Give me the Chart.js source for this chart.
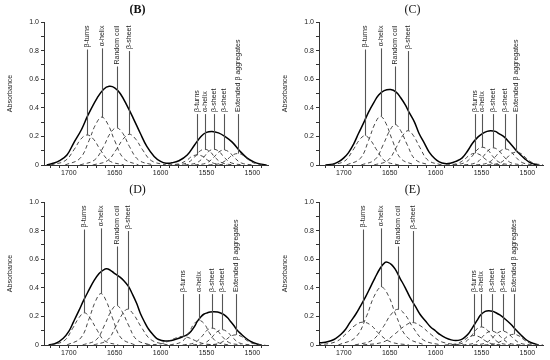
<!DOCTYPE html>
<html>
<head>
<meta charset="utf-8">
<script src="https://cdn.jsdelivr.net/npm/chart.js@4.4.0/dist/chart.umd.min.js"></script>
<style>
  html, body { margin: 0; padding: 0; background: #fff; }
  #wrap { position: relative; width: 550px; height: 360px; }
  .panel { position: absolute; width: 275px; height: 180px; }
</style>
</head>
<body>
<div id="wrap">
  <div class="panel" style="left:0;top:0"><canvas id="chartB" width="275" height="180"></canvas></div>
  <div class="panel" style="left:275px;top:0"><canvas id="chartC" width="275" height="180"></canvas></div>
  <div class="panel" style="left:0;top:180px"><canvas id="chartD" width="275" height="180"></canvas></div>
  <div class="panel" style="left:275px;top:180px"><canvas id="chartE" width="275" height="180"></canvas></div>
</div>
<script>
// axis ranges and ticks (wavenumber, cm-1, reversed axis)
const xMin = 1483;
const xMax = 1727;
const xTickValues = [1490, 1500, 1510, 1520, 1530, 1540, 1550, 1560, 1570, 1580, 1590, 1600,
                     1610, 1620, 1630, 1640, 1650, 1660, 1670, 1680, 1690, 1700, 1710, 1720];
const yTickValues = [0, 0.1, 0.2, 0.3, 0.4, 0.5, 0.6, 0.7, 0.8, 0.9, 1.0];
const yTickLabels = ['0', '', '0.2', '', '0.4', '', '0.6', '', '0.8', '', '1.0'];

const bandNames = ['β-turns', 'α-helix', 'Random coil', 'β-sheet',
                   'β-turns', 'α-helix', 'β-sheet', 'β-sheet', 'Extended β aggregates'];

// ---- panel B : fitted bands [wavenumber, absorbance]
const B_turns  = [[1720,0],[1704,0.03],[1694,0.11],[1687,0.18],[1680,0.21],[1673,0.18],[1666,0.11],[1656,0.03],[1640,0]];
const B_helix  = [[1704,0],[1688,0.045],[1678,0.17],[1671,0.28],[1664,0.335],[1657,0.28],[1650,0.17],[1640,0.045],[1624,0]];
const B_coil   = [[1688,0],[1672,0.035],[1662,0.13],[1655,0.22],[1648,0.26],[1641,0.22],[1634,0.13],[1624,0.035],[1608,0]];
const B_sheet  = [[1674,0],[1658,0.03],[1648,0.11],[1641,0.18],[1634,0.215],[1627,0.18],[1620,0.11],[1610,0.03],[1594,0]];
const B_turns2 = [[1592,0],[1579,0.01],[1571,0.035],[1566,0.06],[1560,0.07],[1554,0.06],[1549,0.035],[1541,0.01],[1528,0]];
const B_helix2 = [[1584,0],[1571,0.015],[1563,0.055],[1558,0.093],[1552,0.11],[1546,0.093],[1541,0.055],[1533,0.015],[1520,0]];
const B_sheet2 = [[1574,0],[1561,0.015],[1553,0.055],[1548,0.093],[1542,0.11],[1536,0.093],[1531,0.055],[1523,0.015],[1510,0]];
const B_sheet3 = [[1563,0],[1550,0.014],[1542,0.054],[1537,0.089],[1531,0.105],[1525,0.089],[1520,0.054],[1512,0.014],[1499,0]];
const B_aggr   = [[1548,0],[1535,0.011],[1527,0.041],[1522,0.068],[1516,0.08],[1510,0.068],[1505,0.041],[1497,0.011],[1484,0]];
const B_total  = [[1724,0],[1718,0.01],[1710,0.03],[1702,0.07],[1695,0.15],[1686,0.25],[1679,0.35],[1669,0.47],[1662,0.53],
                  [1656,0.55],[1650,0.54],[1644,0.5],[1637,0.42],[1630,0.33],[1622,0.22],[1615,0.13],[1607,0.06],[1600,0.025],
                  [1594,0.012],[1588,0.015],[1580,0.03],[1571,0.07],[1563,0.14],[1556,0.2],[1550,0.228],[1544,0.235],
                  [1537,0.225],[1530,0.2],[1522,0.16],[1514,0.1],[1506,0.05],[1498,0.02],[1490,0.005],[1485,0]];

// ---- panel C
const C_turns  = [[1714,0],[1699,0.028],[1690,0.104],[1683,0.175],[1677,0.205],[1671,0.175],[1664,0.104],[1655,0.028],[1640,0]];
const C_helix  = [[1697,0],[1682,0.046],[1673,0.172],[1666,0.29],[1660,0.34],[1654,0.29],[1647,0.172],[1638,0.046],[1623,0]];
const C_coil   = [[1681,0],[1666,0.038],[1657,0.143],[1650,0.24],[1644,0.283],[1638,0.24],[1631,0.143],[1622,0.038],[1607,0]];
const C_sheet  = [[1667,0],[1652,0.032],[1643,0.121],[1636,0.204],[1630,0.24],[1624,0.204],[1617,0.121],[1608,0.032],[1593,0]];
const C_turns2 = [[1589,0],[1576,0.011],[1568,0.042],[1563,0.069],[1557,0.082],[1551,0.069],[1546,0.042],[1538,0.011],[1525,0]];
const C_helix2 = [[1581,0],[1568,0.017],[1560,0.063],[1555,0.105],[1549,0.124],[1543,0.105],[1538,0.063],[1530,0.017],[1517,0]];
const C_sheet2 = [[1569,0],[1556,0.016],[1548,0.061],[1543,0.1],[1537,0.12],[1531,0.1],[1526,0.061],[1518,0.016],[1505,0]];
const C_sheet3 = [[1556,0],[1543,0.015],[1535,0.057],[1530,0.095],[1524,0.112],[1518,0.095],[1513,0.057],[1505,0.015],[1492,0]];
const C_aggr   = [[1544,0],[1531,0.012],[1523,0.046],[1518,0.076],[1512,0.09],[1506,0.076],[1501,0.046],[1493,0.012],[1480,0]];
const C_total  = [[1720,0],[1712,0.005],[1705,0.025],[1700,0.05],[1695,0.085],[1689,0.15],[1684,0.22],[1678,0.3],[1673,0.37],
                  [1667,0.44],[1662,0.49],[1656,0.52],[1649,0.528],[1643,0.51],[1638,0.47],[1633,0.42],[1629,0.37],[1623,0.3],
                  [1618,0.22],[1612,0.15],[1607,0.09],[1601,0.045],[1596,0.022],[1590,0.01],[1584,0.012],[1578,0.025],
                  [1571,0.05],[1565,0.1],[1560,0.15],[1554,0.195],[1549,0.22],[1544,0.235],[1540,0.24],[1535,0.235],
                  [1531,0.22],[1525,0.195],[1520,0.16],[1514,0.115],[1509,0.08],[1503,0.045],[1498,0.02],[1493,0.007],[1488,0]];

// ---- panel D
const D_turns  = [[1720,0],[1705,0.03],[1696,0.114],[1689,0.19],[1683,0.225],[1677,0.19],[1670,0.114],[1661,0.03],[1646,0]];
const D_helix  = [[1702,0],[1687,0.049],[1678,0.182],[1671,0.305],[1665,0.36],[1659,0.305],[1652,0.182],[1643,0.049],[1628,0]];
const D_coil   = [[1685,0],[1670,0.037],[1661,0.14],[1654,0.235],[1648,0.277],[1642,0.235],[1635,0.14],[1626,0.037],[1611,0]];
const D_sheet  = [[1673,0],[1658,0.034],[1649,0.127],[1642,0.212],[1636,0.25],[1629,0.21],[1621,0.125],[1610,0.035],[1592,0]];
const D_turns2 = [[1616,0],[1600,0.008],[1590,0.03],[1583,0.05],[1576,0.06],[1569,0.05],[1562,0.03],[1552,0.008],[1536,0]];
const D_helix2 = [[1590,0],[1577,0.023],[1569,0.087],[1564,0.145],[1558,0.172],[1552,0.145],[1547,0.087],[1539,0.023],[1526,0]];
const D_sheet2 = [[1576,0],[1563,0.016],[1555,0.06],[1550,0.1],[1544,0.118],[1538,0.1],[1533,0.06],[1525,0.016],[1512,0]];
const D_sheet3 = [[1565,0],[1552,0.014],[1544,0.055],[1539,0.09],[1533,0.107],[1527,0.09],[1522,0.055],[1514,0.014],[1501,0]];
const D_aggr   = [[1550,0],[1537,0.01],[1529,0.036],[1524,0.06],[1518,0.071],[1512,0.06],[1507,0.036],[1499,0.01],[1486,0]];
const D_total  = [[1722,0],[1714,0.012],[1706,0.047],[1700,0.095],[1695,0.16],[1689,0.24],[1684,0.31],[1678,0.385],[1673,0.445],
                  [1667,0.5],[1662,0.526],[1659,0.533],[1655,0.524],[1651,0.505],[1645,0.478],[1640,0.45],[1635,0.41],[1631,0.36],
                  [1626,0.29],[1622,0.22],[1617,0.155],[1613,0.11],[1608,0.07],[1604,0.045],[1599,0.032],[1595,0.028],
                  [1590,0.03],[1586,0.035],[1581,0.045],[1576,0.058],[1571,0.072],[1567,0.095],[1563,0.13],[1560,0.165],
                  [1556,0.198],[1553,0.215],[1549,0.225],[1546,0.23],[1542,0.232],[1538,0.23],[1534,0.222],[1531,0.212],
                  [1527,0.19],[1524,0.166],[1520,0.135],[1517,0.107],[1512,0.075],[1507,0.047],[1502,0.025],[1498,0.014],
                  [1493,0.003],[1490,0]];

// ---- panel E
const E_turns  = [[1729,0],[1709,0.022],[1697,0.081],[1688,0.136],[1679,0.16],[1670,0.136],[1662,0.081],[1649,0.022],[1629,0]];
const E_helix  = [[1706,0],[1687,0.055],[1675,0.205],[1667,0.34],[1659,0.405],[1651,0.34],[1643,0.205],[1631,0.055],[1612,0]];
const E_coil   = [[1688,0],[1669,0.034],[1657,0.127],[1649,0.21],[1641,0.25],[1633,0.21],[1625,0.127],[1613,0.034],[1594,0]];
const E_sheet  = [[1679,0],[1657,0.021],[1644,0.079],[1634,0.132],[1625,0.157],[1616,0.132],[1606,0.079],[1593,0.021],[1571,0]];
const E_turns2 = [[1590,0],[1577,0.009],[1569,0.034],[1564,0.056],[1558,0.066],[1552,0.056],[1547,0.034],[1539,0.009],[1526,0]];
const E_helix2 = [[1582,0],[1569,0.017],[1561,0.064],[1556,0.107],[1550,0.126],[1544,0.107],[1539,0.064],[1531,0.017],[1518,0]];
const E_sheet2 = [[1571,0],[1558,0.013],[1550,0.05],[1545,0.082],[1539,0.097],[1533,0.082],[1528,0.05],[1520,0.013],[1507,0]];
const E_sheet3 = [[1559,0],[1546,0.013],[1538,0.05],[1533,0.082],[1527,0.097],[1521,0.082],[1516,0.05],[1508,0.013],[1495,0]];
const E_aggr   = [[1547,0],[1534,0.01],[1526,0.038],[1521,0.063],[1515,0.075],[1509,0.063],[1504,0.038],[1496,0.01],[1483,0]];
const E_total  = [[1727,0.015],[1720,0.02],[1714,0.03],[1709,0.045],[1703,0.075],[1698,0.11],[1693,0.16],[1687,0.215],[1682,0.27],
                  [1676,0.34],[1671,0.405],[1666,0.47],[1660,0.54],[1655,0.578],[1652,0.578],[1648,0.562],[1644,0.53],[1639,0.47],
                  [1633,0.4],[1628,0.335],[1622,0.27],[1617,0.215],[1611,0.168],[1606,0.13],[1600,0.098],[1595,0.072],[1589,0.05],
                  [1583,0.036],[1578,0.031],[1573,0.036],[1569,0.05],[1564,0.08],[1560,0.12],[1555,0.17],[1551,0.21],[1546,0.235],
                  [1542,0.24],[1538,0.236],[1535,0.228],[1530,0.21],[1524,0.18],[1518,0.145],[1513,0.11],[1507,0.07],[1502,0.04],
                  [1497,0.02],[1493,0.01],[1488,0]];

const FONT = '"Liberation Sans", Arial, Helvetica, sans-serif';
const INK = '#222';

// vertical labels with leader lines down to each band maximum
const bandLabels = {
  id: 'bandLabels',
  afterDatasetsDraw(chart, args, opts) {
    const { ctx, scales: { x, y } } = chart;
    ctx.save();
    ctx.font = '7px ' + FONT;
    ctx.fillStyle = INK;
    ctx.strokeStyle = '#555';
    ctx.lineWidth = 1.1;
    ctx.textBaseline = 'middle';
    bandNames.forEach((name, i) => {
      const pts = chart.data.datasets[i].data;
      const peak = pts.reduce((a, b) => (b.y > a.y ? b : a));
      const px = Math.round(x.getPixelForValue(peak.x)) + 0.5;
      const py = y.getPixelForValue(peak.y);
      const w = ctx.measureText(name).width;
      let anchor, lineTop;
      ctx.save();
      if (i < 4) {
        anchor = y.getPixelForValue(opts.topAt);
        ctx.translate(px, anchor);
        ctx.rotate(-Math.PI / 2);
        ctx.textAlign = 'right';
        lineTop = anchor + w + 2;
      } else {
        anchor = y.getPixelForValue(opts.baseAt);
        ctx.translate(px, anchor);
        ctx.rotate(-Math.PI / 2);
        ctx.textAlign = 'left';
        lineTop = anchor + 2;
      }
      ctx.fillText(name, 0, 0);
      ctx.restore();
      ctx.beginPath();
      ctx.moveTo(px, lineTop);
      ctx.lineTo(px, py);
      ctx.stroke();
    });
    ctx.restore();
  }
};

const panelTitle = {
  id: 'panelTitle',
  afterDraw(chart, args, opts) {
    const { ctx } = chart;
    ctx.save();
    ctx.font = (opts.bold ? 'bold ' : '') + '12px "Liberation Serif", "Times New Roman", serif';
    ctx.fillStyle = '#111';
    ctx.textAlign = 'center';
    ctx.textBaseline = 'middle';
    ctx.fillText(opts.text, chart.width / 2, 10);
    ctx.restore();
  }
};

const makePanel = (id, title, bold, series) => {
  const datasets = series.map((arr, i) => {
    const isTotal = i === series.length - 1;
    return {
      data: arr.map(([wx, wy]) => ({ x: wx, y: wy })),
      borderColor: isTotal ? '#000' : '#333',
      borderWidth: isTotal ? 1.5 : 0.9,
      borderDash: isTotal ? [] : [4, 3],
      pointRadius: 0,
      fill: false,
      tension: 0.4,
    };
  });

  const axisGrid = { drawOnChartArea: false, drawTicks: true, tickLength: 3, tickColor: '#333' };
  const axisBorder = { display: true, color: '#333', width: 1 };

  new Chart(document.getElementById(id).getContext('2d'), {
    type: 'line',
    data: { datasets },
    options: {
      responsive: false,
      animation: false,
      events: [],
      devicePixelRatio: 1,
      layout: { padding: { top: 22, right: 7, bottom: 0, left: 0 } },
      plugins: {
        legend: { display: false },
        tooltip: { enabled: false },
        bandLabels: { topAt: 0.975, baseAt: 0.37 },
        panelTitle: { text: title, bold },
      },
      scales: {
        x: {
          type: 'linear',
          reverse: true,
          min: xMin,
          max: xMax,
          afterBuildTicks: (s) => { s.ticks = xTickValues.map((v) => ({ value: v })); },
          afterFit: (s) => { s.height = 15; },
          grid: axisGrid,
          border: axisBorder,
          ticks: {
            autoSkip: false,
            maxRotation: 0,
            padding: 1,
            color: INK,
            font: { family: FONT, size: 7 },
            callback: (v) => (v % 50 === 0 ? String(v) : ''),
          },
        },
        y: {
          min: 0,
          max: 1,
          afterBuildTicks: (s) => { s.ticks = yTickValues.map((v) => ({ value: v })); },
          afterFit: (s) => { s.width = 44; },
          title: {
            display: true,
            text: 'Absorbance',
            color: INK,
            font: { family: FONT, size: 7 },
            padding: { top: 6, bottom: 0 },
          },
          grid: axisGrid,
          border: axisBorder,
          ticks: {
            autoSkip: false,
            padding: 2,
            color: INK,
            font: { family: FONT, size: 7 },
            callback: (v, idx) => yTickLabels[idx],
          },
        },
      },
    },
    plugins: [bandLabels, panelTitle],
  });
};

makePanel('chartB', '(B)', true,
  [B_turns, B_helix, B_coil, B_sheet, B_turns2, B_helix2, B_sheet2, B_sheet3, B_aggr, B_total]);
makePanel('chartC', '(C)', false,
  [C_turns, C_helix, C_coil, C_sheet, C_turns2, C_helix2, C_sheet2, C_sheet3, C_aggr, C_total]);
makePanel('chartD', '(D)', false,
  [D_turns, D_helix, D_coil, D_sheet, D_turns2, D_helix2, D_sheet2, D_sheet3, D_aggr, D_total]);
makePanel('chartE', '(E)', false,
  [E_turns, E_helix, E_coil, E_sheet, E_turns2, E_helix2, E_sheet2, E_sheet3, E_aggr, E_total]);
</script>
</body>
</html>
